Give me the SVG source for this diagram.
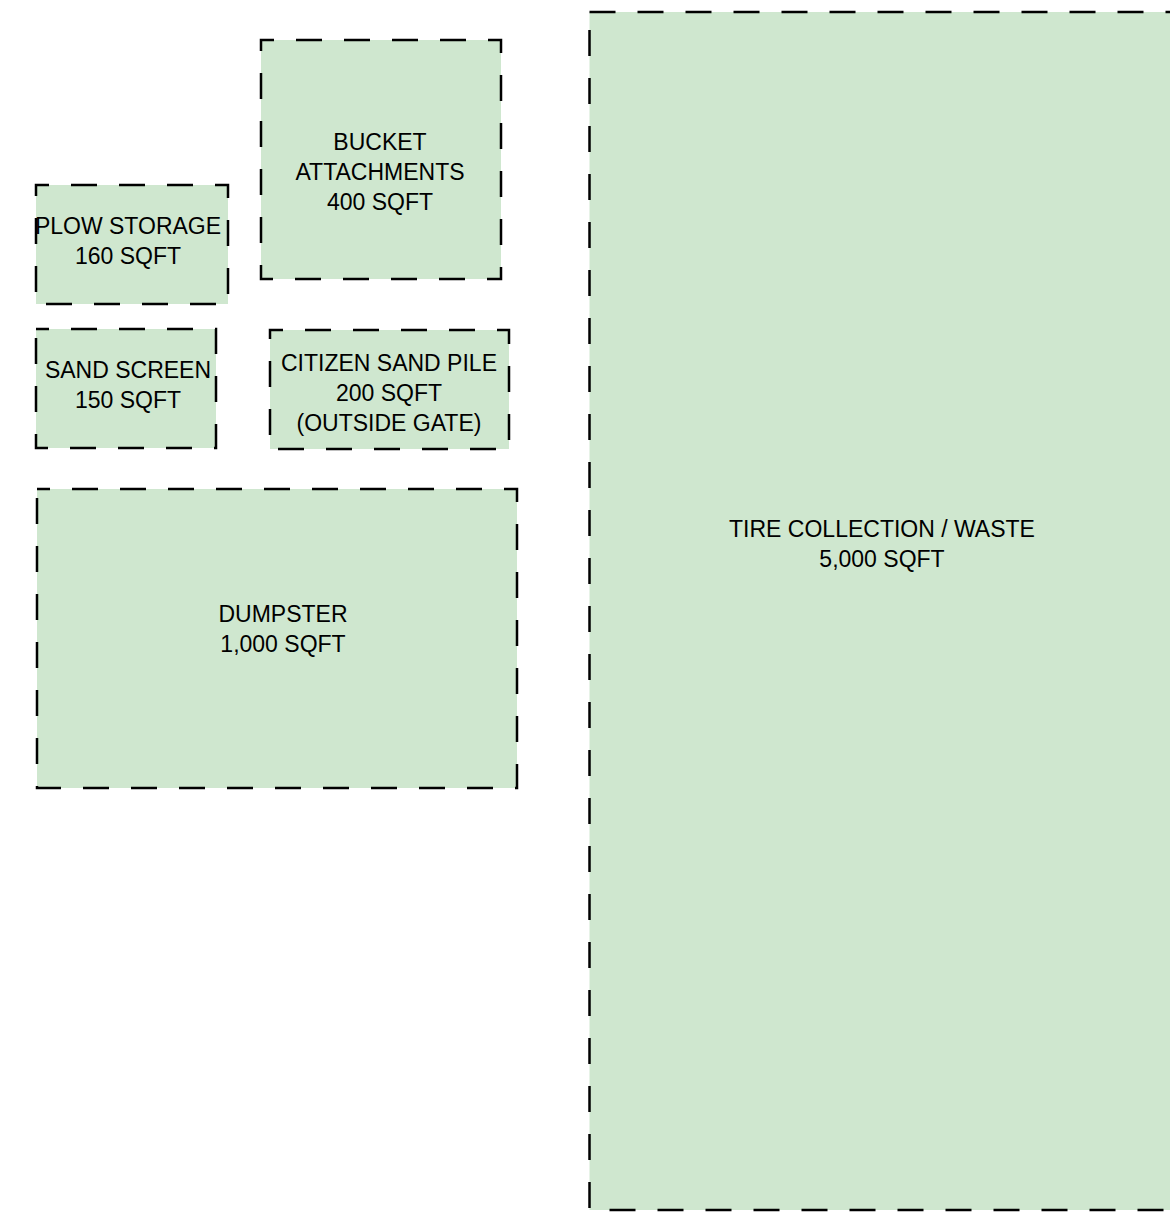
<svg xmlns="http://www.w3.org/2000/svg" width="1170" height="1214" viewBox="0 0 1170 1214">
<style>
.zone{fill:#cfe7cf;stroke:#000;stroke-width:2.5;stroke-dasharray:26 22;stroke-dashoffset:13}
.big{stroke-dashoffset:0}
text{font-family:"Liberation Sans",Arial,sans-serif;font-size:23px;fill:#000;text-anchor:middle}
</style>
<rect width="1170" height="1214" fill="#fff"/>
<g id="tire-collection">
<rect class="zone big" x="589.5" y="12" width="600" height="1198"/>
<text x="882" y="537">TIRE COLLECTION / WASTE</text>
<text x="882" y="567">5,000 SQFT</text>
</g>
<g id="bucket-attachments">
<rect class="zone" x="261" y="40" width="240" height="239"/>
<text x="380" y="150">BUCKET</text>
<text x="380" y="180">ATTACHMENTS</text>
<text x="380" y="210">400 SQFT</text>
</g>
<g id="plow-storage">
<rect class="zone" x="36" y="185" width="192" height="119"/>
<text x="128" y="234">PLOW STORAGE</text>
<text x="128" y="264">160 SQFT</text>
</g>
<g id="sand-screen">
<rect class="zone" x="36" y="329" width="180" height="119"/>
<text x="128" y="378">SAND SCREEN</text>
<text x="128" y="408">150 SQFT</text>
</g>
<g id="citizen-sand-pile">
<rect class="zone" x="270" y="330" width="239" height="119"/>
<text x="389" y="371">CITIZEN SAND PILE</text>
<text x="389" y="401">200 SQFT</text>
<text x="389" y="431">(OUTSIDE GATE)</text>
</g>
<g id="dumpster">
<rect class="zone" x="37" y="489" width="480" height="299"/>
<text x="283" y="622">DUMPSTER</text>
<text x="283" y="652">1,000 SQFT</text>
</g>
<g id="connectors"></g>
</svg>
